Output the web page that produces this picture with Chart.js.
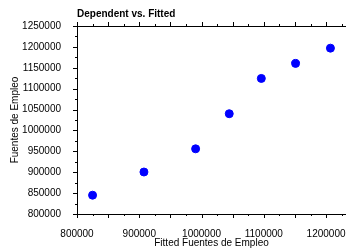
<!DOCTYPE html>
<html>
<head>
<meta charset="utf-8">
<script src="https://cdn.jsdelivr.net/npm/chart.js@4/dist/chart.umd.min.js"></script>
<style>
  html, body { margin: 0; padding: 0; background: #fff; }
  #wrap { width: 346px; height: 251px; position: relative; }
</style>
</head>
<body>
<div id="wrap"><canvas id="fitChart"></canvas></div>
<script>
// Data
const fittedValues = [825000, 907500, 990500, 1044500, 1096000, 1151000, 1207000];
const dependentValues = [845000, 900500, 956000, 1040000, 1124500, 1160500, 1197000];
const xTickLabels = [800000, 900000, 1000000, 1100000, 1200000];
const yTickLabels = [800000, 850000, 900000, 950000, 1000000, 1050000, 1100000, 1150000, 1200000, 1250000];

const FONT = 'Liberation Sans, Arial, Helvetica, sans-serif';

// draws top border line and the small major/minor tick marks
const axisFrame = {
    id: 'axisFrame',
    afterDraw(chart) {
        const ctx = chart.ctx;
        const area = chart.chartArea;
        const xs = chart.scales.x;
        const ys = chart.scales.y;
        ctx.save();
        ctx.strokeStyle = '#000';
        ctx.lineWidth = 1;
        ctx.beginPath();
        ctx.moveTo(area.left, Math.round(area.top) + 0.5);
        ctx.lineTo(area.right, Math.round(area.top) + 0.5);
        for (let v = xs.min; v <= xs.max; v += 25000) {
            const px = Math.round(xs.getPixelForValue(v)) + 0.5;
            const len = v % 50000 === 0 ? 4 : 2;
            ctx.moveTo(px, area.bottom);
            ctx.lineTo(px, area.bottom + len);
            ctx.moveTo(px, area.top);
            ctx.lineTo(px, area.top - len);
        }
        for (let v = ys.min; v <= ys.max; v += 25000) {
            const py = Math.round(ys.getPixelForValue(v)) + 0.5;
            const len = v % 50000 === 0 ? 4 : 2;
            ctx.moveTo(area.left, py);
            ctx.lineTo(area.left - len, py);
        }
        ctx.stroke();
        // chart title, left aligned with the plot
        ctx.fillStyle = '#000';
        ctx.font = 'bold 10px ' + FONT;
        ctx.textBaseline = 'middle';
        ctx.textAlign = 'left';
        ctx.fillText('Dependent vs. Fitted', area.left, 14);
        ctx.restore();
    }
};

const points = fittedValues.map((x, i) => ({ x: x, y: dependentValues[i] }));

new Chart(document.getElementById('fitChart'), {
    type: 'scatter',
    data: {
        datasets: [{
            data: points,
            backgroundColor: '#0000ff',
            borderColor: '#0000ff',
            pointRadius: 4,
            pointHoverRadius: 4
        }]
    },
    options: {
        responsive: true,
        maintainAspectRatio: false,
        animation: false,
        events: [],
        layout: { autoPadding: false, padding: { top: 26, right: 0, left: 0, bottom: 0 } },
        plugins: {
            legend: { display: false },
            tooltip: { enabled: false },
            title: { display: false }
        },
        scales: {
            x: {
                type: 'linear',
                min: 800000,
                max: 1232000,
                grid: { display: false },
                border: { display: true, color: '#000', width: 1 },
                afterFit: s => { s.height = 37; s.paddingLeft = 0; s.paddingRight = 0; },
                afterBuildTicks: s => { s.ticks = xTickLabels.map(v => ({ value: v })); },
                ticks: {
                    color: '#000',
                    font: { family: FONT, size: 10 },
                    padding: 6,
                    maxRotation: 0,
                    autoSkip: false,
                    callback: v => String(v)
                },
                title: {
                    display: true,
                    text: 'Fitted Fuentes de Empleo',
                    color: '#000',
                    font: { family: FONT, size: 10 },
                    padding: { top: 0, bottom: 2 }
                }
            },
            y: {
                type: 'linear',
                min: 800000,
                max: 1250000,
                grid: { display: false },
                border: { display: true, color: '#000', width: 1 },
                afterFit: s => { s.width = 77; s.paddingTop = 0; s.paddingBottom = 0; },
                afterBuildTicks: s => { s.ticks = yTickLabels.map(v => ({ value: v })); },
                ticks: {
                    color: '#000',
                    font: { family: FONT, size: 10 },
                    padding: 8,
                    autoSkip: false,
                    callback: v => String(v)
                },
                title: {
                    display: true,
                    text: 'Fuentes de Empleo',
                    color: '#000',
                    font: { family: FONT, size: 10 },
                    padding: { top: 9, bottom: 0 }
                }
            }
        }
    },
    plugins: [axisFrame]
});
</script>
</body>
</html>
